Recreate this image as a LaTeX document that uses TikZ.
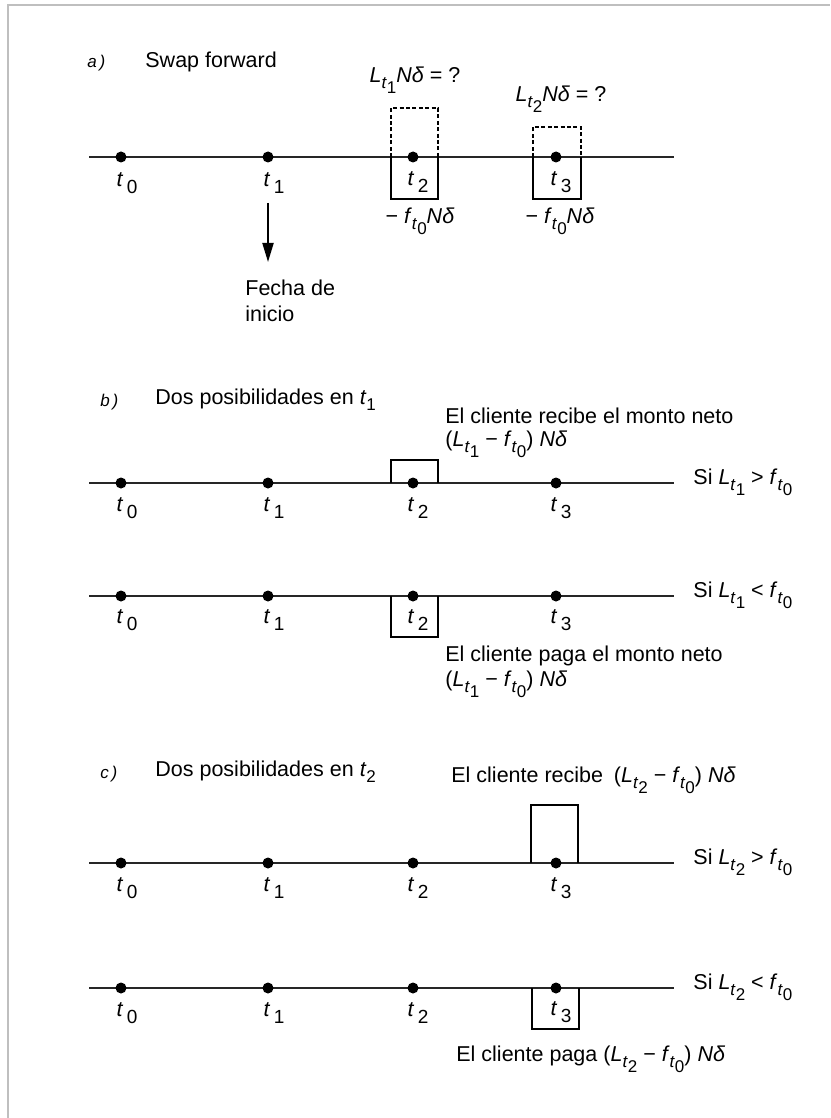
\documentclass[tikz,border=0pt]{standalone}
\usepackage{fontspec}
\setmainfont{Liberation Sans}
\usepackage{tikz}
\usetikzlibrary{arrows.meta,positioning}

% subindices a mano
\newcommand{\sbs}[1]{\raisebox{-0.55ex}{\fontsize{8.5}{9}\selectfont #1}}
\newcommand{\tsub}[1]{\textit{t}\,\raisebox{-0.6ex}{\fontsize{9.5}{10}\selectfont #1}}
\newcommand{\Lt}[1]{\textit{L}\sbs{\textit{t}\sbs{#1}}}
\newcommand{\fcero}{\textit{f}\sbs{\textit{t}\sbs{0}}}

\tikzset{
  punto/.style={circle,fill=black,inner sep=0pt,minimum size=5.5pt},
  etq/.style={inner sep=0pt},
  txt/.style={inner sep=0pt,anchor=west},
  inciso/.style={inner sep=0pt,anchor=west,font=\fontsize{8.5}{9}\selectfont\itshape},
  eje/.style={line width=0.7pt,draw=black!85},
  caja/.style={line width=1pt},
  cajap/.style={line width=1pt,dash pattern=on 2pt off 1.2pt},
  flecha/.style={line width=1pt,-{Triangle[length=9.5pt,width=5.5pt]}}
}

\begin{document}
\begin{tikzpicture}[x=0.5pt,y=-0.5pt,font=\fontsize{10.75}{13}\selectfont]
\useasboundingbox (0,0) rectangle (830,1118);
\draw[gray!50,line width=1.2pt] (8,1118) |- (830,5);

% a) swap forward
\node[inciso] (a-let) at (87,63) {a\,)};
\node[txt] (a-tit) at (145,62) {Swap forward};
\coordinate (a-ini) at (89,157); \coordinate (a-fin) at (674,157);
\draw[eje] (a-ini) -- (a-fin);
\node[punto] (a-t0) at (121,157) {}; \node[etq] (a-l0) at (127,183) {\tsub{0}};
\node[punto] (a-t1) at (268,157) {}; \node[etq] (a-l1) at (274,183) {\tsub{1}};
\node[punto] (a-t2) at (413,157) {}; \node[etq] (a-l2) at (418,182) {\tsub{2}};
\node[punto] (a-t3) at (556,157) {}; \node[etq] (a-l3) at (561,182) {\tsub{3}};
\draw[cajap] (a-t2.center) ++(-22,0) -- ++(0,-49) -- ++(47,0) -- ++(0,49);
\draw[caja] (a-t2.center) ++(-22,0) -- ++(0,42) -- ++(47,0) -- ++(0,-42);
\draw[cajap] (a-t3.center) ++(-23,0) -- ++(0,-30) -- ++(48,0) -- ++(0,30);
\draw[caja] (a-t3.center) ++(-23,0) -- ++(0,42) -- ++(48,0) -- ++(0,-42);
\node[etq] (a-q2) at (415,80) {\Lt{1}\textit{Nδ} = ?};
\node[etq] (a-q3) at (561,99) {\Lt{2}\textit{Nδ} = ?};
\node[etq] (a-p2) at (420,221) {− \fcero\textit{Nδ}};
\node[etq] (a-p3) at (560,221) {− \fcero\textit{Nδ}};
\coordinate (fl-ini) at (268,203); \coordinate (fl-fin) at (268,262);
\draw[flecha] (fl-ini) -- (fl-fin);
\node[etq,anchor=north west,align=left] (fecha) at (245,280) {Fecha de\\inicio};

% b) dos posibilidades en t1
\node[inciso] (b-let) at (100,402) {b\,)};
\node[txt] (b-tit) at (155,400) {Dos posibilidades en \textit{t}\sbs{1}};
\node[txt] (b-rec1) at (445,416) {El cliente recibe el monto neto};
\node[txt] (b-rec2) at (445,444) {(\Lt{1} − \fcero) \textit{Nδ}};
\coordinate (b1-ini) at (89,483); \coordinate (b1-fin) at (674,483);
\draw[eje] (b1-ini) -- (b1-fin);
\node[punto] (b1-t0) at (121,483) {}; \node[etq] (b1-l0) at (127,508) {\tsub{0}};
\node[punto] (b1-t1) at (268,483) {}; \node[etq] (b1-l1) at (274,508) {\tsub{1}};
\node[punto] (b1-t2) at (413,483) {}; \node[etq] (b1-l2) at (418,508) {\tsub{2}};
\node[punto] (b1-t3) at (556,483) {}; \node[etq] (b1-l3) at (561,508) {\tsub{3}};
\draw[caja] (b1-t2.center) ++(-22,0) -- ++(0,-23) -- ++(47,0) -- ++(0,23);
\node[txt] (b1-si) at (693,482) {Si \Lt{1} > \fcero};

\coordinate (b2-ini) at (89,596); \coordinate (b2-fin) at (674,596);
\draw[eje] (b2-ini) -- (b2-fin);
\node[punto] (b2-t0) at (121,596) {}; \node[etq] (b2-l0) at (127,620) {\tsub{0}};
\node[punto] (b2-t1) at (268,596) {}; \node[etq] (b2-l1) at (274,620) {\tsub{1}};
\node[punto] (b2-t2) at (413,596) {}; \node[etq] (b2-l2) at (418,620) {\tsub{2}};
\node[punto] (b2-t3) at (556,596) {}; \node[etq] (b2-l3) at (561,620) {\tsub{3}};
\draw[caja] (b2-t2.center) ++(-22,0) -- ++(0,41) -- ++(47,0) -- ++(0,-41);
\node[txt] (b2-si) at (693,595) {Si \Lt{1} < \fcero};
\node[txt] (b-pag1) at (445,656) {El cliente paga el monto neto};
\node[txt] (b-pag2) at (445,684) {(\Lt{1} − \fcero) \textit{Nδ}};

% c) dos posibilidades en t2
\node[inciso] (c-let) at (100,774) {c\,)};
\node[txt] (c-tit) at (155,772) {Dos posibilidades en \textit{t}\sbs{2}};
\node[txt] (c-rec) at (451,780) {El cliente recibe\enspace(\Lt{2} − \fcero) \textit{Nδ}};
\coordinate (c1-ini) at (89,863); \coordinate (c1-fin) at (674,863);
\draw[eje] (c1-ini) -- (c1-fin);
\node[punto] (c1-t0) at (121,863) {}; \node[etq] (c1-l0) at (127,888) {\tsub{0}};
\node[punto] (c1-t1) at (268,863) {}; \node[etq] (c1-l1) at (274,888) {\tsub{1}};
\node[punto] (c1-t2) at (413,863) {}; \node[etq] (c1-l2) at (418,888) {\tsub{2}};
\node[punto] (c1-t3) at (556,863) {}; \node[etq] (c1-l3) at (561,888) {\tsub{3}};
\draw[caja] (c1-t3.center) ++(-25,0) -- ++(0,-58) -- ++(47,0) -- ++(0,58);
\node[txt] (c1-si) at (693,862) {Si \Lt{2} > \fcero};

\coordinate (c2-ini) at (89,988); \coordinate (c2-fin) at (674,988);
\draw[eje] (c2-ini) -- (c2-fin);
\node[punto] (c2-t0) at (121,988) {}; \node[etq] (c2-l0) at (127,1013) {\tsub{0}};
\node[punto] (c2-t1) at (268,988) {}; \node[etq] (c2-l1) at (274,1013) {\tsub{1}};
\node[punto] (c2-t2) at (413,988) {}; \node[etq] (c2-l2) at (418,1013) {\tsub{2}};
\node[punto] (c2-t3) at (556,988) {}; \node[etq] (c2-l3) at (561,1012) {\tsub{3}};
\draw[caja] (c2-t3.center) ++(-24,0) -- ++(0,41) -- ++(47,0) -- ++(0,-41);
\node[txt] (c2-si) at (693,987) {Si \Lt{2} < \fcero};
\node[txt] (c-pag) at (456,1059) {El cliente paga (\Lt{2} − \fcero) \textit{Nδ}};
\end{tikzpicture}
\end{document}
